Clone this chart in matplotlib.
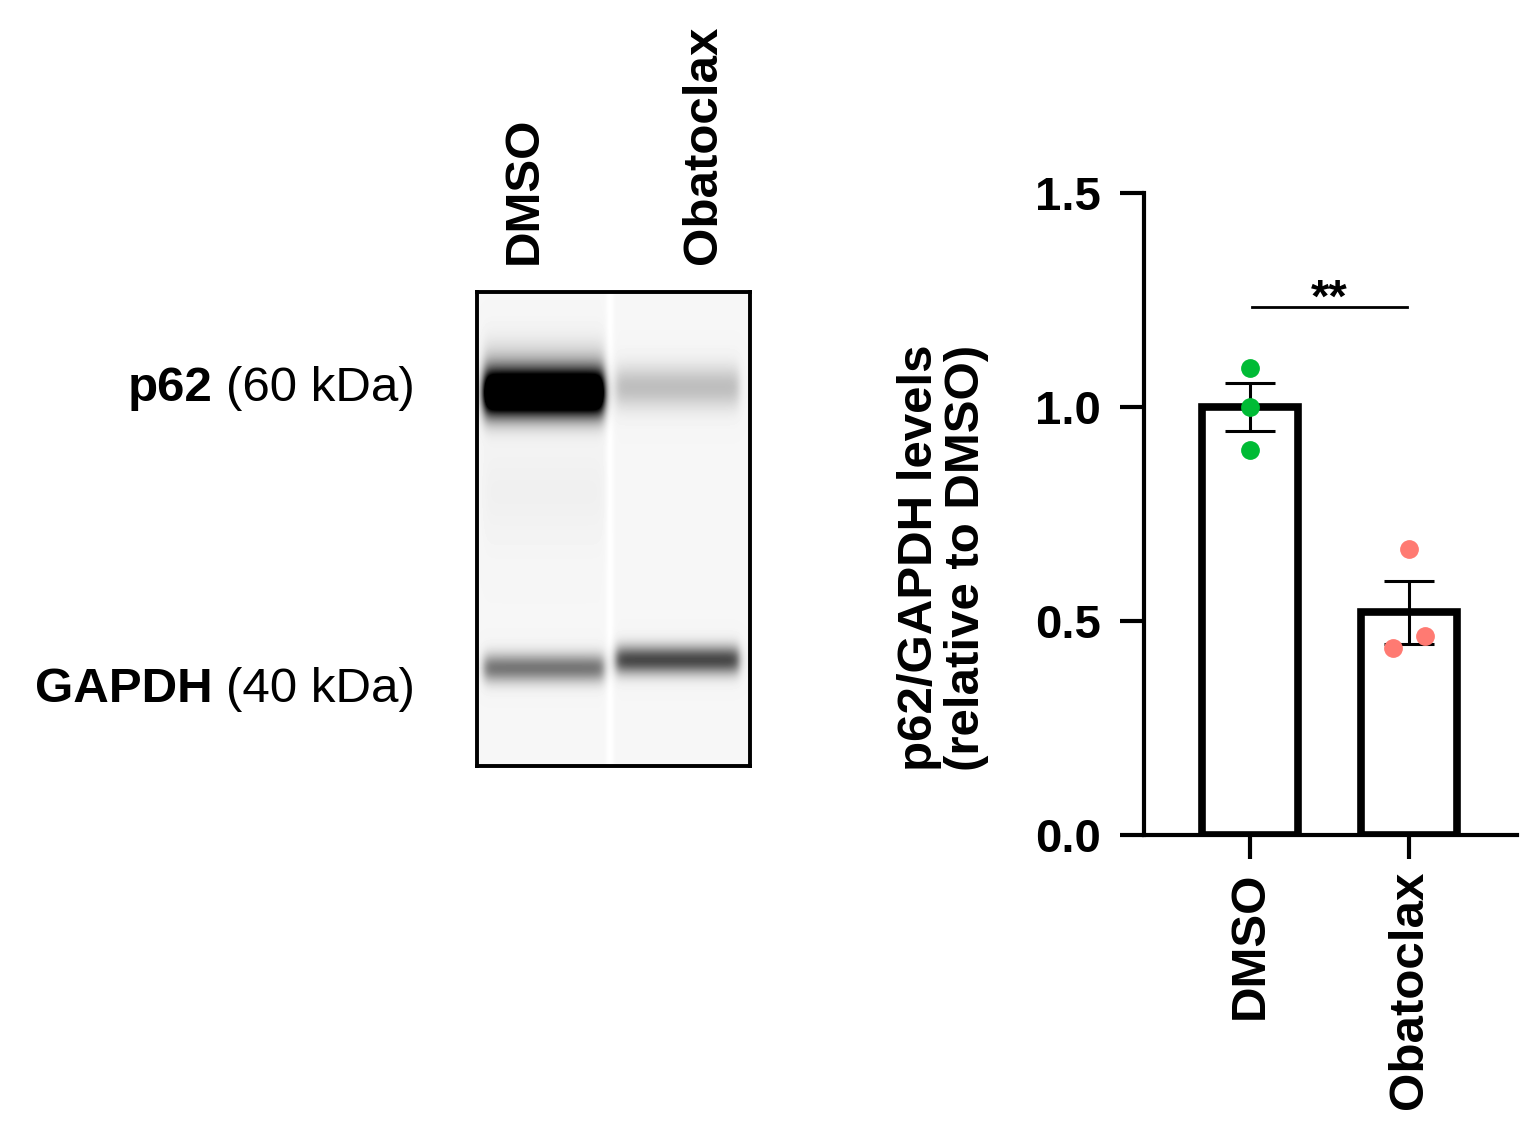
import numpy as np
import matplotlib
matplotlib.use('Agg')
import matplotlib.pyplot as plt

plt.rcParams['font.family'] = ['Liberation Sans', 'DejaVu Sans']

# Quantification data
groups = ['DMSO', 'Obatoclax']
means = [1.0, 0.52]
sems = [0.056, 0.074]
dmso_points = [1.09, 1.0, 0.90]
obato_points = [0.668, 0.465, 0.437]
obato_offsets = [0.0, 0.10, -0.10]
point_colors = ['#00BB35', '#FF7A72']
sig_label = '**'
sig_y = 1.234

# Blot lanes (pixel rows inside the blot panel, darkness, spread)
lane_names = ['DMSO', 'Obatoclax']
lane_cols = [(7, 127), (139, 262)]
band_labels = ['p62', 'GAPDH']
band_sizes = ['(60 kDa)', '(40 kDa)']
lane1_rows = [101, 72, 200, 376]
lane1_dark = [1.7, 0.14, 0.025, 0.50]
lane1_sigma = [16, 18, 35, 10]
lane2_rows = [95, 368]
lane2_dark = [0.22, 0.68]
lane2_sigma = [15, 10]

W, H = 1539, 1135
fig = plt.figure(figsize=(W / 100, H / 100), dpi=100)

# ---- blot image ----
nrow, ncol = 474, 273
yy = np.arange(nrow)[:, None] + 0.5
xx = np.arange(ncol)[None, :] + 0.5
img = np.full((nrow, ncol), 0.965)


def lane_mask(c0, c1, soft=2.5):
    return 1 / (1 + np.exp(-(xx - c0) / soft)) * 1 / (1 + np.exp((xx - c1) / soft))


# white gap between lanes
gap = np.exp(-((xx - 133) / 4.0) ** 2)
img = img + (1.0 - 0.965) * gap * np.ones((nrow, 1))

for (c0, c1), rows, dark, sig in zip(lane_cols, [lane1_rows, lane2_rows],
                                     [lane1_dark, lane2_dark], [lane1_sigma, lane2_sigma]):
    m = lane_mask(c0, c1)
    prof = np.zeros((nrow, 1))
    for r, d, s in zip(rows, dark, sig):
        prof = prof + d * np.exp(-0.5 * ((yy - r) / s) ** 2)
    img = img - prof * m

img = np.clip(img, 0, 1)

bax = fig.add_axes([477 / W, 1 - 766 / H, 273 / W, 474 / H])
bax.imshow(img, cmap='gray', vmin=0, vmax=1, extent=(0, ncol, nrow, 0),
           aspect='auto', interpolation='bilinear')
bax.set_xticks([])
bax.set_yticks([])
for s in bax.spines.values():
    s.set_linewidth(2.8)

# lane labels on top
lane_x = [524, 704]
for name, lx in zip(lane_names, lane_x):
    fig.text(lx / W, 1 - 264 / H, name, rotation=90, ha='center', va='bottom',
             fontsize=35.5, fontweight='bold')

# band labels on the left
renderer = fig.canvas.get_renderer()
band_base = [401, 702]
for lab, size, by in zip(band_labels, band_sizes, band_base):
    t = fig.text(415 / W, 1 - by / H, size, ha='right', va='baseline', fontsize=35.5)
    bb = t.get_window_extent(renderer)
    fig.text((bb.x0 - 14) / W, 1 - by / H, lab, ha='right', va='baseline',
             fontsize=35.5, fontweight='bold')

# ---- bar chart ----
ax = fig.add_axes([1144 / W, 1 - 835 / H, (1517 - 1144) / W, (835 - 193) / H])
x = np.arange(len(groups))
ax.bar(x, means, width=0.6, color='white', edgecolor='black', linewidth=5.5, zorder=2)
ax.errorbar(x, means, yerr=sems, fmt='none', ecolor='black', elinewidth=2.2,
            capsize=18, capthick=2.2, zorder=3)
ax.plot(np.zeros(len(dmso_points)), dmso_points, 'o', color=point_colors[0],
        markersize=12.5, zorder=4)
ax.plot(np.ones(len(obato_points)) + np.array(obato_offsets), obato_points, 'o',
        color=point_colors[1], markersize=12.5, zorder=4)

ax.plot([0.01, 0.99], [sig_y, sig_y], color='black', linewidth=2)
ax.text(0.5, sig_y - 0.035, sig_label, ha='center', va='bottom', fontsize=34,
        fontweight='bold')

ax.set_xlim(-0.667, 1.679)
ax.set_ylim(0, 1.5)
ax.set_yticks([0, 0.5, 1.0, 1.5])
ax.set_yticklabels(['0.0', '0.5', '1.0', '1.5'], fontsize=34, fontweight='bold')
ax.set_xticks(x)
ax.set_xticklabels(groups, rotation=90, fontsize=35.5, fontweight='bold')
ax.spines['top'].set_visible(False)
ax.spines['right'].set_visible(False)
ax.spines['left'].set_linewidth(3)
ax.spines['bottom'].set_linewidth(3)
ax.tick_params(axis='y', length=17, width=3, pad=14)
ax.tick_params(axis='x', length=17, width=3, pad=9)

fig.text(943 / W, 1 - 771 / H, 'p62/GAPDH levels\n(relative to DMSO)', rotation=90,
         ha='center', va='bottom', multialignment='left', fontsize=35.5,
         fontweight='bold', linespacing=1.08)

fig.savefig('out.png', dpi=100)
